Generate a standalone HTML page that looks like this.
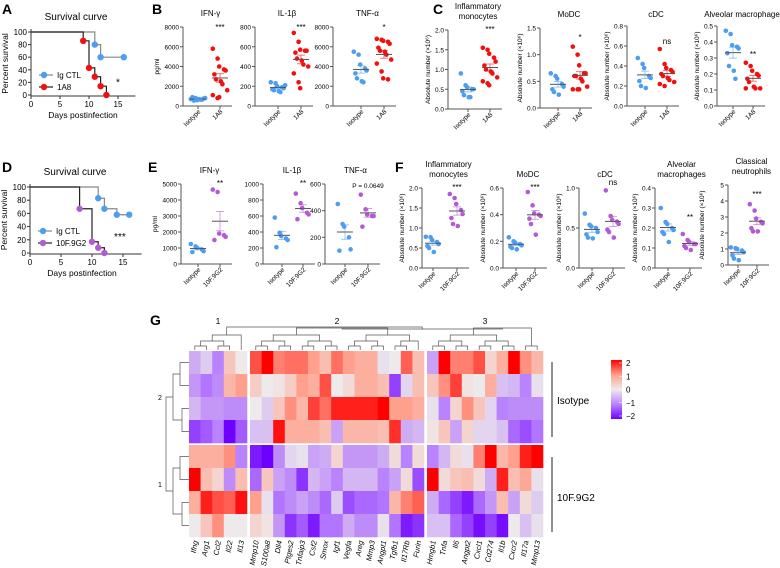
<!DOCTYPE html>
<html><head><meta charset="utf-8"><style>
html,body{margin:0;padding:0;background:#fff;}
svg{display:block;font-family:"Liberation Sans",Arial,sans-serif;}
</style></head><body>
<svg id="fig" width="780" height="568" viewBox="0 0 780 568" xmlns="http://www.w3.org/2000/svg">
<g font-weight="bold" font-size="14" fill="#000">
<text x="2" y="14">A</text>
<text x="152" y="14">B</text>
<text x="433" y="14">C</text>
<text x="2" y="172">D</text>
<text x="148" y="172">E</text>
<text x="395" y="172">F</text>
<text x="150" y="325">G</text>
</g>
<g id="plots"></g>
</svg>
<script>
// ---------- Survival data ----------
const survA_ctlDays = [0, 11, 12, 16];
const survA_ctlPct = [100, 80, 60, 60];
const survA_trtDays = [0, 9, 10, 11, 12, 13];
const survA_trtPct = [100, 86, 43, 29, 14, 0];
const survD_ctlDays = [0, 11, 12, 14, 16];
const survD_ctlPct = [100, 83, 67, 58, 58];
const survD_trtDays = [0, 8, 10, 11, 12];
const survD_trtPct = [100, 67, 17, 8, 0];
const survTicksX = [0, 5, 10, 15];
const survTicksY = [0, 20, 40, 60, 80, 100];

// ---------- Scatter data ----------
const bIfnIso = [700,800,600,650,750,900,550,700,650,800];
const bIfnTrt = [5800,4800,4000,3700,3600,3200,2700,2500,2200,1600,1100,800,900];
const bIl1Iso = [240,230,200,190,180,170,160,150,140,210];
const bIl1Trt = [740,650,570,560,560,540,480,460,420,400,330,240,180];
const bTnfIso = [5500,5200,4200,3800,3600,3300,2800,2500,2400];
const bTnfTrt = [6800,6700,6600,6500,6300,5900,5600,5500,5200,4700,4300,3500,2800,2700];
const cMonoIso = [0.9,0.6,0.55,0.5,0.5,0.45,0.35,0.3,0.3];
const cMonoTrt = [1.55,1.5,1.4,1.3,1.2,1.1,1.0,0.95,0.9,0.8,0.7,0.65,0.6];
const cModcIso = [0.65,0.6,0.55,0.45,0.4,0.35,0.3,0.25];
const cModcTrt = [1.15,1.0,0.8,0.65,0.65,0.6,0.6,0.55,0.5,0.4,0.35,0.35,0.35];
const cCdcIso = [0.48,0.42,0.38,0.3,0.28,0.25,0.2,0.18];
const cCdcTrt = [0.57,0.42,0.38,0.36,0.34,0.32,0.3,0.28,0.26,0.24,0.22,0.2];
const cAmIso = [0.47,0.45,0.38,0.37,0.36,0.33,0.25,0.22,0.17];
const cAmTrt = [0.27,0.25,0.22,0.2,0.19,0.17,0.15,0.12,0.11,0.11,0.11];
const eIfnIso = [1250,1100,1000,900,800,750];
const eIfnTrt = [4650,4500,1900,1800,1700,1500];
const eIl1Iso = [580,390,350,320,300,210];
const eIl1Trt = [880,760,700,640,620,560];
const eTnfIso = [450,300,280,200,110,100];
const eTnfTrt = [520,410,370,360,360,280];
const fMonoIso = [0.78,0.77,0.7,0.65,0.6,0.55,0.5,0.4];
const fMonoTrt = [1.85,1.75,1.6,1.45,1.35,1.25,1.1,1.05];
const fModcIso = [0.23,0.2,0.19,0.18,0.17,0.16,0.15,0.14];
const fModcTrt = [0.57,0.47,0.41,0.4,0.39,0.37,0.33,0.25];
const fCdcIso = [0.68,0.54,0.52,0.5,0.45,0.42,0.38,0.37];
const fCdcTrt = [0.97,0.65,0.6,0.58,0.55,0.48,0.45,0.38];
const fAmIso = [0.3,0.23,0.22,0.2,0.19,0.18,0.17,0.13];
const fAmTrt = [0.17,0.14,0.13,0.12,0.12,0.11,0.1,0.09];
const fCnIso = [1.1,1.05,1.0,0.9,0.8,0.6,0.4,0.3];
const fCnTrt = [3.8,3.4,2.9,2.7,2.6,2.3,2.1,2.1];

// ---------- Heatmap data ----------
const hmGenes = ["Ifng","Arg1","Ccl2","Il22","Il13","Mmp10","S100a8","Dll4","Ptges2","Tnfaip3","Csf2","Smox","Igf1","Vegfa","Areg","Mmp3","Angpt1","Tgfb1","Il17Rb","Furin","Hmgb1","Tnfa","Il6","Angpt2","Cxcl1","Cd274","Il1b","Cxcr2","Il17a","Mmp13"];
const hmClusterSizes = [5, 15, 10];
const hmValues = [
[-0.6,-0.3,-1.0,0.5,0.0, 1.5,2.0,1.2,1.3,1.3,1.0,0.6,1.3,1.0,0.8,0.8,-0.1,0.0,1.4,0.6, -0.7,2.0,1.2,1.2,1.5,0.3,0.8,2.0,1.1,0.7],
[-0.8,-1.1,-0.9,0.7,1.0, 0.4,0.0,0.1,0.4,1.0,0.8,1.5,0.0,0.2,0.8,0.8,0.6,-1.5,-0.2,0.6, 0.5,1.1,1.6,0.1,0.0,0.8,-0.4,-0.5,-1.0,-0.1],
[-0.5,-0.8,-0.8,-0.9,-0.9, 0.0,-0.3,0.5,1.1,0.7,1.6,1.3,1.8,1.8,1.8,1.8,2.0,1.0,1.0,0.8, -0.1,-1.0,0.3,1.1,0.5,-0.2,-1.0,-0.9,-0.9,-0.9],
[-1.5,-1.3,-1.0,-2.0,-1.3, -0.4,-0.4,1.9,0.8,0.8,0.8,0.6,-0.7,0.7,0.7,0.7,0.6,1.7,-0.6,-0.5, 0.1,0.5,-0.7,0.3,-0.2,-0.2,-0.4,-1.2,-1.4,-1.1],
[0.8,0.8,0.8,1.1,-1.0, -1.8,-2.0,-0.9,-0.2,-0.1,-0.7,-0.6,0.3,-0.8,-0.8,-0.8,-0.6,0.2,-1.0,0.2, -1.0,-0.5,0.2,-0.1,1.2,2.0,0.7,1.0,1.8,2.0],
[2.0,0.6,0.3,-0.9,0.6, -1.2,0.5,-0.7,-0.9,-1.6,-0.5,-0.7,-1.0,-0.5,-0.5,-0.5,-1.0,-0.7,0.2,-1.4, 2.0,0.2,0.5,0.6,0.2,-0.6,1.8,0.6,0.9,-0.1],
[0.8,1.8,1.5,1.4,1.9, 1.0,-0.1,-1.1,-0.9,-0.7,-0.9,-1.2,-0.3,-1.4,-1.2,-1.2,-1.1,0.7,1.2,1.4, -0.6,-1.2,-1.5,-1.8,-1.2,-0.8,0.6,-0.7,0.2,-0.3],
[0.0,0.5,1.1,0.0,0.0, 0.3,0.1,-0.8,-1.6,-1.3,-1.8,-1.1,-1.1,-0.6,-0.9,-0.9,-0.1,-1.1,-1.8,-1.6, -0.4,-0.4,-1.2,-1.5,-1.9,-1.5,-1.9,0.0,-0.4,-0.1]
];
const hmLegendTicks = [2, 1, 0, -1, -2];

const NS = "http://www.w3.org/2000/svg";
const root = document.getElementById("plots");
function el(tag, attrs, parent, text) {
  const e = document.createElementNS(NS, tag);
  for (const k in attrs) e.setAttribute(k, attrs[k]);
  if (text !== undefined) e.textContent = text;
  (parent || root).appendChild(e);
  return e;
}
const BLUE = "#4d9ef0", RED = "#f01010", PURPLE = "#b45ad6";

// ---------- Survival ----------
function survival(cfg) {
  const g = el("g", {});
  
  
  const sx = d => cfg.x0 + d * cfg.pxDay;
  const sy = p => cfg.y0 - p * (cfg.y0 - cfg.y100) / 100;
  el("text", {x: cfg.x0 + 45, y: cfg.y100 - 12, "font-size": 10, "text-anchor": "middle"}, g, "Survival curve");
  el("line", {x1: cfg.x0, y1: cfg.y100 - 3, x2: cfg.x0, y2: cfg.y0 + 1, stroke: "#333", "stroke-width": 1}, g);
  el("line", {x1: cfg.x0, y1: cfg.y0 + 1, x2: sx(18), y2: cfg.y0 + 1, stroke: "#333", "stroke-width": 1}, g);
  survTicksY.forEach(t => {
    el("line", {x1: cfg.x0 - 3, y1: sy(t), x2: cfg.x0, y2: sy(t), stroke: "#333"}, g);
    el("text", {x: cfg.x0 - 4, y: sy(t) + 3, "font-size": 8, "text-anchor": "end"}, g, t);
  });
  survTicksX.forEach(t => {
    el("line", {x1: sx(t), y1: cfg.y0 + 1, x2: sx(t), y2: cfg.y0 + 4, stroke: "#333"}, g);
    el("text", {x: sx(t), y: cfg.y0 + 12, "font-size": 8, "text-anchor": "middle"}, g, t);
  });
  el("text", {x: cfg.x0 + 52, y: cfg.y0 + 23, "font-size": 8.5, "text-anchor": "middle"}, g, "Days postinfection");
  el("text", {transform: `translate(${cfg.x0 - 23},${(cfg.y0 + cfg.y100) / 2}) rotate(-90)`, "font-size": 8.5, "text-anchor": "middle"}, g, "Percent survival");
  function curve(days, pct, lineColor, color, nm) {
    let d = `M${sx(days[0])},${sy(pct[0])}`;
    for (let i = 1; i < days.length; i++) d += `H${sx(days[i])}V${sy(pct[i])}`;
    const p = el("path", {d: d, fill: "none", stroke: lineColor, "stroke-width": 1.2}, g);
    
    
    for (let i = 1; i < days.length; i++) {
      const c = el("circle", {cx: sx(days[i]), cy: sy(pct[i]), r: 3.2, fill: color}, g);
      
      
    }
  }
  curve(cfg.ctlDays, cfg.ctlPct, "#888", BLUE, "ig-ctl");
  curve(cfg.trtDays, cfg.trtPct, "#222", cfg.color, cfg.trtName.toLowerCase().replace(/\./g, ""));
  [[cfg.legY, BLUE, "#888", "Ig CTL"], [cfg.legY + 12, cfg.color, "#222", cfg.trtName]].forEach(([y, c, lc, t]) => {
    const lg = el("g", {}, g);
    
    
    el("line", {x1: cfg.x0 + 8, y1: y, x2: cfg.x0 + 22, y2: y, stroke: lc, "stroke-width": 1.2}, lg);
    el("circle", {cx: cfg.x0 + 13, cy: y, r: 3.2, fill: c}, lg);
    el("text", {x: cfg.x0 + 26, y: y + 3, "font-size": 8}, lg, t);
  });
  el("text", {x: sx(cfg.sigDay), y: sy(cfg.sigPct), "font-size": 10, "text-anchor": "middle"}, g, cfg.sig);
}
survival({name: "survival-plot-a", x0: 31, y0: 95, y100: 32, pxDay: 5.8, ctlDays: survA_ctlDays, ctlPct: survA_ctlPct, trtDays: survA_trtDays, trtPct: survA_trtPct, color: RED, trtName: "1A8", legY: 75, sig: "*", sigDay: 15, sigPct: 15});
survival({name: "survival-plot-d", x0: 30, y0: 253, y100: 187, pxDay: 6.2, ctlDays: survD_ctlDays, ctlPct: survD_ctlPct, trtDays: survD_trtDays, trtPct: survD_trtPct, color: PURPLE, trtName: "10F.9G2", legY: 231, sig: "***", sigDay: 14.5, sigPct: 20});

// ---------- Scatter ----------
function mean(a) { return a.reduce((s, v) => s + v, 0) / a.length; }
function sem(a) { const m = mean(a); return Math.sqrt(a.reduce((s, v) => s + (v - m) * (v - m), 0) / (a.length - 1) / a.length); }
function scatter(cfg) {
  const g = el("g", {});
  
  
  const sy = v => cfg.bot - v / cfg.ymax * (cfg.bot - cfg.top);
  const right = cfg.trtX + 12;
  el("line", {x1: cfg.ax, y1: cfg.top, x2: cfg.ax, y2: cfg.bot, stroke: "#555"}, g);
  el("line", {x1: cfg.ax, y1: cfg.bot, x2: right, y2: cfg.bot, stroke: "#555"}, g);
  for (let t = 0; t <= cfg.ymax + 1e-9; t += cfg.step) {
    el("line", {x1: cfg.ax - 3, y1: sy(t), x2: cfg.ax, y2: sy(t), stroke: "#555"}, g);
    el("text", {x: cfg.ax - 4, y: sy(t) + 2.5, "font-size": 6.5, "text-anchor": "end"}, g, t.toFixed(cfg.dec));
  }
  [cfg.isoX, cfg.trtX].forEach(x => el("line", {x1: x, y1: cfg.bot, x2: x, y2: cfg.bot + 3, stroke: "#555"}, g));
  el("text", {transform: `translate(${cfg.isoX + 3},${cfg.bot + 6}) rotate(-45)`, "font-size": 6.5, "text-anchor": "end"}, g, "Isotype");
  el("text", {transform: `translate(${cfg.trtX + 3},${cfg.bot + 6}) rotate(-45)`, "font-size": 6.5, "text-anchor": "end"}, g, cfg.trtLabel);
  cfg.title.forEach((t, i) => el("text", {x: (cfg.ax + right) / 2 + 3, y: cfg.titleY + i * 10, "font-size": 8, "text-anchor": "middle"}, g, t));
  if (cfg.ylabel) el("text", {transform: `translate(${cfg.ax - (cfg.dec ? 18 : 24)},${(cfg.top + cfg.bot) / 2}) rotate(-90)`, "font-size": 6.5, "text-anchor": "middle"}, g, cfg.ylabel);
  function group(data, cx, color, nm) {
    const m = mean(data), s = sem(data);
    data.forEach((v, i) => {
      const off = ((i % 5) - 2) * 3.2 + (i % 2 ? 0.8 : -0.8);
      const c = el("circle", {cx: cx + off, cy: sy(v), r: 2.3, fill: color}, g);
      
      
    });
    el("line", {x1: cx - 8, y1: sy(m), x2: cx + 8, y2: sy(m), stroke: "#555", "stroke-width": 1}, g);
    el("line", {x1: cx, y1: sy(m + s), x2: cx, y2: sy(m - s), stroke: color, "stroke-width": 0.8, opacity: 0.7}, g);
    el("line", {x1: cx - 4, y1: sy(m + s), x2: cx + 4, y2: sy(m + s), stroke: color, "stroke-width": 0.8, opacity: 0.7}, g);
    el("line", {x1: cx - 4, y1: sy(m - s), x2: cx + 4, y2: sy(m - s), stroke: color, "stroke-width": 0.8, opacity: 0.7}, g);
  }
  group(cfg.iso, cfg.isoX, BLUE, "isotype");
  group(cfg.trt, cfg.trtX, cfg.color, "treatment");
  el("text", {x: cfg.trtX, y: cfg.sigY, "font-size": cfg.sig.length > 5 ? 6.5 : 8, "text-anchor": "middle", "font-style": cfg.sig.length > 5 ? "normal" : "normal"}, g, cfg.sig);
}
const AB = "Absolute number (×10⁶)";
scatter({name: "ifn-gamma-b", ax: 183, top: 27, bot: 106, ymax: 8000, step: 2000, dec: 0, isoX: 198, trtX: 220, iso: bIfnIso, trt: bIfnTrt, color: RED, trtLabel: "1A8", title: ["IFN-γ"], titleY: 16, ylabel: "pg/ml", sig: "***", sigY: 30});
scatter({name: "il-1beta-b", ax: 255, top: 27, bot: 106, ymax: 800, step: 200, dec: 0, isoX: 278, trtX: 301, iso: bIl1Iso, trt: bIl1Trt, color: RED, trtLabel: "1A8", title: ["IL-1β"], titleY: 16, sig: "***", sigY: 30});
scatter({name: "tnf-alpha-b", ax: 333, top: 27, bot: 106, ymax: 8000, step: 2000, dec: 0, isoX: 361, trtX: 384, iso: bTnfIso, trt: bTnfTrt, color: RED, trtLabel: "1A8", title: ["TNF-α"], titleY: 16, sig: "*", sigY: 30});
scatter({name: "inflammatory-monocytes-c", ax: 448, top: 30, bot: 109, ymax: 2.0, step: 0.5, dec: 1, isoX: 468, trtX: 490, iso: cMonoIso, trt: cMonoTrt, color: RED, trtLabel: "1A8", title: ["Inflammatory", "monocytes"], titleY: 9, ylabel: AB, sig: "***", sigY: 32});
scatter({name: "modc-c", ax: 540, top: 28, bot: 108, ymax: 1.5, step: 0.5, dec: 1, isoX: 558, trtX: 580, iso: cModcIso, trt: cModcTrt, color: RED, trtLabel: "1A8", title: ["MoDC"], titleY: 17, ylabel: AB, sig: "*", sigY: 40});
scatter({name: "cdc-c", ax: 627, top: 26, bot: 106, ymax: 0.8, step: 0.2, dec: 1, isoX: 645, trtX: 667, iso: cCdcIso, trt: cCdcTrt, color: RED, trtLabel: "1A8", title: ["cDC"], titleY: 17, ylabel: AB, sig: "ns", sigY: 44});
scatter({name: "alveolar-macrophages-c", ax: 717, top: 26, bot: 106, ymax: 0.5, step: 0.1, dec: 1, isoX: 733, trtX: 753, iso: cAmIso, trt: cAmTrt, color: RED, trtLabel: "1A8", title: ["Alveolar macrophages"], titleY: 17, ylabel: AB, sig: "**", sigY: 57});
scatter({name: "ifn-gamma-e", ax: 181, top: 184, bot: 264, ymax: 5000, step: 1000, dec: 0, isoX: 198, trtX: 220, iso: eIfnIso, trt: eIfnTrt, color: PURPLE, trtLabel: "10F.9G2", title: ["IFN-γ"], titleY: 173, ylabel: "pg/ml", sig: "**", sigY: 186});
scatter({name: "il-1beta-e", ax: 263, top: 184, bot: 264, ymax: 1000, step: 200, dec: 0, isoX: 282, trtX: 303, iso: eIl1Iso, trt: eIl1Trt, color: PURPLE, trtLabel: "10F.9G2", title: ["IL-1β"], titleY: 173, sig: "**", sigY: 186});
scatter({name: "tnf-alpha-e", ax: 325, top: 184, bot: 264, ymax: 600, step: 200, dec: 0, isoX: 345, trtX: 368, iso: eTnfIso, trt: eTnfTrt, color: PURPLE, trtLabel: "10F.9G2", title: ["TNF-α"], titleY: 173, sig: "P = 0.0649", sigY: 188});
scatter({name: "inflammatory-monocytes-f", ax: 422, top: 188, bot: 268, ymax: 2.0, step: 0.5, dec: 1, isoX: 433, trtX: 457, iso: fMonoIso, trt: fMonoTrt, color: PURPLE, trtLabel: "10F.9G2", title: ["Inflammatory", "monocytes"], titleY: 167, ylabel: AB, sig: "***", sigY: 190});
scatter({name: "modc-f", ax: 503, top: 188, bot: 268, ymax: 0.6, step: 0.2, dec: 1, isoX: 516, trtX: 535, iso: fModcIso, trt: fModcTrt, color: PURPLE, trtLabel: "10F.9G2", title: ["MoDC"], titleY: 177, ylabel: AB, sig: "***", sigY: 190});
scatter({name: "cdc-f", ax: 579, top: 188, bot: 268, ymax: 1.0, step: 0.5, dec: 1, isoX: 592, trtX: 613, iso: fCdcIso, trt: fCdcTrt, color: PURPLE, trtLabel: "10F.9G2", title: ["cDC"], titleY: 177, ylabel: AB, sig: "ns", sigY: 185});
scatter({name: "alveolar-macrophages-f", ax: 655, top: 188, bot: 268, ymax: 0.4, step: 0.1, dec: 1, isoX: 668, trtX: 690, iso: fAmIso, trt: fAmTrt, color: PURPLE, trtLabel: "10F.9G2", title: ["Alveolar", "macrophages"], titleY: 167, ylabel: AB, sig: "**", sigY: 220});
scatter({name: "classical-neutrophils-f", ax: 728, top: 185, bot: 265, ymax: 5, step: 1, dec: 0, isoX: 738, trtX: 757, iso: fCnIso, trt: fCnTrt, color: PURPLE, trtLabel: "10F.9G2", title: ["Classical", "neutrophils"], titleY: 164, ylabel: AB, sig: "***", sigY: 197});

// ---------- Heatmap ----------
function lerp(a, b, t) { return Math.round(a + (b - a) * t); }
function color(v) {
  v = Math.max(-2, Math.min(2, v));
  let c;
  if (v >= 0) {
    const t = v / 2;
    c = t < 0.5 ? [lerp(238, 255, t * 2), lerp(234, 160, t * 2), lerp(236, 140, t * 2)] : [255, lerp(160, 0, (t - 0.5) * 2), lerp(140, 0, (t - 0.5) * 2)];
  } else {
    const t = -v / 2;
    c = t < 0.5 ? [lerp(238, 185, t * 2), lerp(234, 130, t * 2), lerp(236, 250, t * 2)] : [lerp(185, 110, (t - 0.5) * 2), lerp(130, 0, (t - 0.5) * 2), 255];
  }
  return `rgb(${c[0]},${c[1]},${c[2]})`;
}
const hg = el("g", {});


const hmX0 = 189, hmY0 = 351, cellW = 11.6, cellH = 23, colGap = 3, rowGap = 2;
function colX(j) {
  let gaps = 0, acc = 0;
  for (let k = 0; k < hmClusterSizes.length; k++) { acc += hmClusterSizes[k]; if (j >= acc) gaps++; }
  return hmX0 + j * cellW + gaps * colGap;
}
function rowY(i) { return hmY0 + i * cellH + (i >= 4 ? rowGap : 0); }
hmValues.forEach((row, i) => row.forEach((v, j) => {
  const r = el("rect", {x: colX(j), y: rowY(i), width: cellW + 0.3, height: cellH + 0.3, fill: color(v)}, hg);
  
  
}));
hmGenes.forEach((gname, j) => {
  const t = el("text", {transform: `translate(${colX(j) + cellW / 2 + 3},${rowY(7) + cellH + 4}) rotate(-80)`, "font-size": 7.5, "font-style": "italic", "text-anchor": "end"}, hg, gname);
  
  
});
// cluster labels
let acc = 0;
hmClusterSizes.forEach((n, k) => {
  const mid = (colX(acc) + colX(acc + n - 1) + cellW) / 2;
  el("text", {x: mid, y: 324, "font-size": 8.5, "text-anchor": "middle"}, hg, String(k + 1));
  acc += n;
});
// simplified column dendrogram
function colDend() {
  const d = el("g", {stroke: "#555", "stroke-width": 0.7, fill: "none"}, hg);
  
  
  let start = 0;
  const tops = [];
  hmClusterSizes.forEach((n) => {
    let nodes = [];
    for (let j = start; j < start + n; j++) nodes.push({x: colX(j) + cellW / 2, h: hmY0 - 1});
    let level = 0;
    while (nodes.length > 1) {
      const next = [];
      for (let k = 0; k < nodes.length; k += 2) {
        if (k + 1 < nodes.length) {
          const a = nodes[k], b = nodes[k + 1];
          const h = Math.min(a.h, b.h) - 4 - level;
          el("path", {d: `M${a.x},${a.h}V${h}H${b.x}V${b.h}`}, d);
          next.push({x: (a.x + b.x) / 2, h: h});
        } else next.push(nodes[k]);
      }
      nodes = next; level++;
    }
    tops.push(nodes[0]);
    start += n;
  });
  el("path", {d: `M${tops[1].x},${tops[1].h}V329H${tops[2].x}V${tops[2].h}`}, d);
  const mid12 = (tops[1].x + tops[2].x) / 2;
  el("path", {d: `M${tops[0].x},${tops[0].h}V327H${mid12}V329`}, d);
}
colDend();
// simplified row dendrogram
(function () {
  const d = el("g", {stroke: "#555", "stroke-width": 0.7, fill: "none"}, hg);
  
  
  const rc = i => rowY(i) + cellH / 2;
  const pairs = [[0, 1, 180], [2, 3, 182], [4, 5, 180], [6, 7, 182]];
  pairs.forEach(([a, b, x]) => el("path", {d: `M189,${rc(a)}H${x}V${rc(b)}H189`}, d));
  el("path", {d: `M180,${(rc(0) + rc(1)) / 2}H173V${(rc(2) + rc(3)) / 2}H182`}, d);
  el("path", {d: `M180,${(rc(4) + rc(5)) / 2}H173V${(rc(6) + rc(7)) / 2}H182`}, d);
  el("path", {d: `M173,${(rc(1) + rc(2)) / 2}H166V${(rc(5) + rc(6)) / 2}H173`}, d);
  el("text", {x: 160, y: 400, "font-size": 7, "text-anchor": "middle"}, hg, "2");
  el("text", {x: 160, y: 487, "font-size": 7, "text-anchor": "middle"}, hg, "1");
})();
// group labels
[["Isotype", 362, 437, 400], ["10F.9G2", 457, 532, 497]].forEach(([t, y1, y2, ty]) => {
  const g = el("g", {}, hg);
  
  
  el("line", {x1: 552, y1: y1, x2: 552, y2: y2, stroke: "#222", "stroke-width": 1}, g);
  el("text", {x: 557, y: ty + 4, "font-size": 10}, g, t);
});
// color legend
(function () {
  const g = el("g", {}, hg);
  
  
  const defs = el("defs", {}, g);
  const lg = el("linearGradient", {id: "hmgrad", x1: 0, y1: 0, x2: 0, y2: 1}, defs);
  hmLegendTicks.forEach((v, i) => el("stop", {offset: i / (hmLegendTicks.length - 1), "stop-color": color(v)}, lg));
  const top = 360, bot = 419;
  el("rect", {x: 611, y: top, width: 11, height: bot - top, fill: "url(#hmgrad)"}, g);
  hmLegendTicks.forEach((v, i) => {
    const y = top + 3 + i * (bot - top - 6) / (hmLegendTicks.length - 1);
    el("line", {x1: 619, y1: y, x2: 622, y2: y, stroke: "#fff", "stroke-width": 0.6}, g);
    el("text", {x: 626, y: y + 3, "font-size": 8}, g, v < 0 ? "−" + (-v) : String(v));
  });
})();
</script>
</body></html>
